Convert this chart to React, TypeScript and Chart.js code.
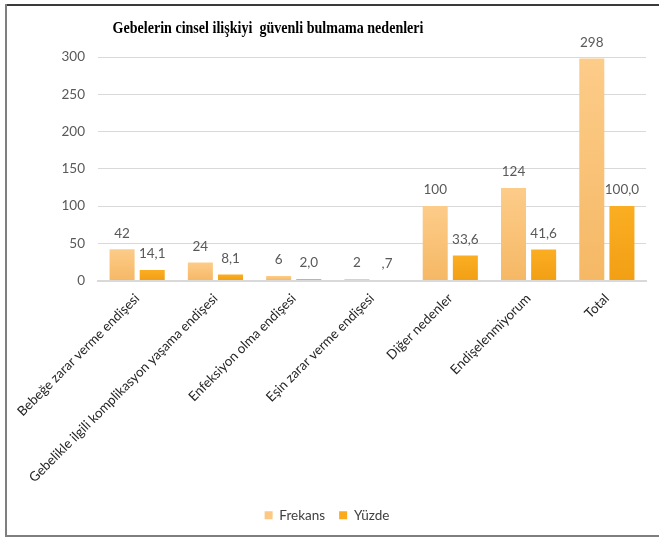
import React, { useEffect, useRef } from "react";
import { Chart, registerables } from "chart.js";

Chart.register(...registerables);

const chartTitle = "Gebelerin cinsel ilişkiyi  güvenli bulmama nedenleri";
const categories = [
  "Bebeğe zarar verme endişesi",
  "Gebelikle ilgili komplikasyon yaşama endişesi",
  "Enfeksiyon olma endişesi",
  "Eşin zarar verme endişesi",
  "Diğer nedenler",
  "Endişelenmiyorum",
  "Total",
];
const frekans = [42, 24, 6, 2, 100, 124, 298];
const yuzde = [14.1, 8.1, 2.0, 0.7, 33.6, 41.6, 100.0];
const seriesNames = ["Frekans", "Yüzde"];
const yMin = 0;
const yMax = 300;
const yStep = 50;

const fmtPercent = (v: number) => {
  let s = v.toFixed(1).replace(".", ",");
  if (s.startsWith("0,")) s = s.slice(1);
  return s;
};

const LABEL_FONT = "Lato, 'Open Sans', sans-serif";

function barGradient(ctx: any, top: string, bottom: string) {
  const chart = ctx.chart;
  const y = chart.scales && chart.scales.y;
  if (!y || ctx.raw == null) return top;
  const yt = y.getPixelForValue(ctx.raw);
  const yb = y.getPixelForValue(0);
  if (!isFinite(yt) || !isFinite(yb) || yb - yt < 2) return top;
  const g = chart.ctx.createLinearGradient(0, yt, 0, yb);
  g.addColorStop(0, top);
  g.addColorStop(1, bottom);
  return g;
}

const titlePlugin = {
  id: "customTitle",
  afterDraw(chart: any) {
    const ctx = chart.ctx;
    ctx.save();
    ctx.font = "bold 17px 'Liberation Serif', 'Times New Roman', serif";
    ctx.fillStyle = "#000000";
    ctx.textAlign = "center";
    ctx.textBaseline = "middle";
    const w = ctx.measureText(chartTitle).width;
    const target = 311;
    ctx.translate(268, 29);
    ctx.scale(target / w, 1);
    ctx.fillText(chartTitle, 0, 0);
    ctx.restore();
  },
};

const dataLabelPlugin = {
  id: "dataLabels",
  afterDatasetsDraw(chart: any) {
    const ctx = chart.ctx;
    ctx.save();
    ctx.font = `13.5px ${LABEL_FONT}`;
    ctx.fillStyle = "#595959";
    ctx.textAlign = "center";
    ctx.textBaseline = "middle";
    chart.data.datasets.forEach((ds: any, di: number) => {
      const meta = chart.getDatasetMeta(di);
      meta.data.forEach((bar: any, i: number) => {
        const v = ds.data[i];
        const text = di === 0 ? String(v) : fmtPercent(v);
        ctx.fillText(text, bar.x, bar.y - 16);
      });
    });
    ctx.restore();
  },
};

export default function App() {
  const canvasRef = useRef<HTMLCanvasElement | null>(null);

  useEffect(() => {
    const canvas = canvasRef.current;
    if (!canvas) return;
    const chart = new Chart(canvas, {
      type: "bar",
      data: {
        labels: categories,
        datasets: [
          {
            label: seriesNames[0],
            data: frekans,
            backgroundColor: (c: any) => barGradient(c, "#FDCC89", "#F5B865"),
            borderWidth: 0,
            barPercentage: 0.83,
            categoryPercentage: 0.77,
          },
          {
            label: seriesNames[1],
            data: yuzde,
            backgroundColor: (c: any) => barGradient(c, "#FBAE22", "#F29F14"),
            borderWidth: 0,
            barPercentage: 0.83,
            categoryPercentage: 0.77,
          },
        ],
      },
      options: {
        responsive: false,
        animation: false,
        layout: { padding: { left: 8, right: 13, top: 57, bottom: 6 } },
        plugins: {
          title: { display: false },
          tooltip: { enabled: false },
          legend: {
            position: "bottom",
            labels: {
              boxWidth: 8,
              boxHeight: 8,
              padding: 14,
              color: "#404040",
              font: { family: LABEL_FONT, size: 13.5 },
              generateLabels: (chart: any) =>
                chart.data.datasets.map((ds: any, i: number) => ({
                  text: ds.label,
                  fillStyle: i === 0 ? "#FDC883" : "#FBAA1C",
                  strokeStyle: "rgba(0,0,0,0)",
                  lineWidth: 0,
                  hidden: false,
                  datasetIndex: i,
                  fontColor: "#404040",
                })),
            },
          },
        },
        scales: {
          x: {
            grid: { display: false, drawTicks: false },
            border: { display: true, color: "#D9D9D9", width: 2 },
            ticks: {
              autoSkip: false,
              maxRotation: 45,
              minRotation: 45,
              padding: 10,
              color: "#262626",
              font: { family: LABEL_FONT, size: 13.3 },
            },
            afterFit: (s: any) => {
              s.height = 214;
            },
          },
          y: {
            min: yMin,
            max: yMax,
            ticks: {
              stepSize: yStep,
              padding: 13,
              color: "#595959",
              font: { family: LABEL_FONT, size: 13.5 },
            },
            grid: { color: "#D9D9D9", lineWidth: 1, drawTicks: false },
            border: { display: false },
            afterFit: (s: any) => {
              s.width = 90;
            },
          },
        },
      },
      plugins: [titlePlugin, dataLabelPlugin],
    } as any);
    return () => chart.destroy();
  }, []);

  return (
    <div
      style={{
        position: "fixed",
        left: 0,
        top: 0,
        width: 659,
        height: 538,
        background: "#ffffff",
        overflow: "hidden",
      }}
    >
      <canvas
        ref={canvasRef}
        width={659}
        height={538}
        style={{ position: "absolute", left: 0, top: 0, width: 659, height: 538 }}
      />
      <div style={{ position: "absolute", left: 5, top: 4, width: 654, height: 2, background: "#3a3a3a" }} />
      <div style={{ position: "absolute", left: 5, top: 4, width: 2, height: 533, background: "#7f7f7f" }} />
      <div style={{ position: "absolute", left: 5, top: 535, width: 654, height: 2, background: "#7f7f7f" }} />
    </div>
  );
}
